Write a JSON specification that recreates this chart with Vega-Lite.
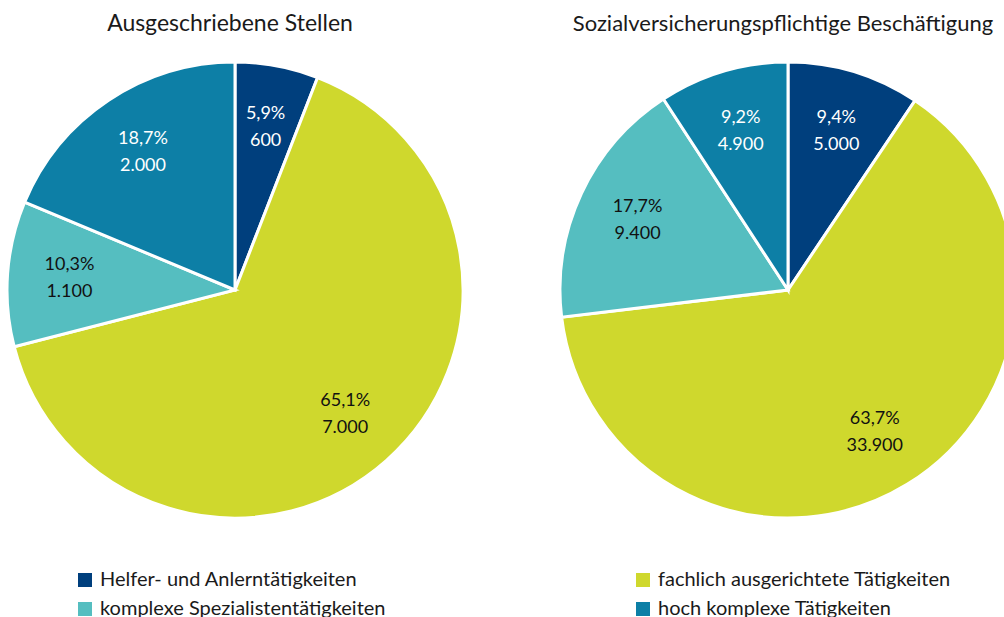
{
  "$schema": "https://vega.github.io/schema/vega-lite/v6.json",
  "padding": {"left": 1, "top": 13, "right": 0, "bottom": 0},
  "autosize": {"type": "pad"},
  "background": "white",
  "config": {
    "view": {"stroke": null},
    "font": "Lato",
    "locale": {"number": {"decimal": ",", "thousands": ".", "grouping": [3], "currency": ["", " €"]}},
    "title": {"fontSize": 23, "fontWeight": "normal", "color": "#1a1a1a", "offset": 20, "anchor": "middle", "dx": -5}
  },
  "spacing": 85,
  "hconcat": [
    {
      "title": "Ausgeschriebene Stellen",
      "width": 456,
      "height": 456,
      "data": {"values": [
        {"kategorie": "Helfer- und Anlerntätigkeiten", "o": 1, "anteil": 0.059, "anzahl": 600},
        {"kategorie": "fachlich ausgerichtete Tätigkeiten", "o": 2, "anteil": 0.651, "anzahl": 7000},
        {"kategorie": "komplexe Spezialistentätigkeiten", "o": 3, "anteil": 0.103, "anzahl": 1100},
        {"kategorie": "hoch komplexe Tätigkeiten", "o": 4, "anteil": 0.187, "anzahl": 2000}
      ]},
      "encoding": {
        "theta": {"field": "anteil", "type": "quantitative", "stack": true},
        "order": {"field": "o", "type": "quantitative"},
        "detail": {"field": "kategorie", "type": "nominal"}
      },
      "layer": [
        {
          "mark": {"type": "arc", "stroke": "white", "strokeWidth": 3},
          "encoding": {
            "color": {
              "field": "kategorie", "type": "nominal",
              "scale": {
                "domain": ["Helfer- und Anlerntätigkeiten", "komplexe Spezialistentätigkeiten", "fachlich ausgerichtete Tätigkeiten", "hoch komplexe Tätigkeiten"],
                "range": ["#003f7d", "#55bec0", "#cfd82d", "#0d7fa6"]
              },
              "legend": {
                "orient": "none", "legendX": 68, "legendY": 508, "columns": 2, "columnPadding": 247,
                "title": null, "symbolType": "square", "symbolSize": 196, "symbolStrokeWidth": 0,
                "labelFontSize": 20, "labelColor": "#1a1a1a", "labelOffset": 5, "rowPadding": 9, "labelLimit": 400
              }
            }
          }
        },
        {
          "mark": {"type": "text", "radius": 166, "dy": -13, "fontSize": 18},
          "encoding": {
            "text": {"field": "anteil", "type": "quantitative", "format": ".1%"},
            "color": {"condition": {"test": "datum.o == 1 || datum.o == 4", "value": "white"}, "value": "#111111"}
          }
        },
        {
          "mark": {"type": "text", "radius": 166, "dy": 14, "fontSize": 18},
          "encoding": {
            "text": {"field": "anzahl", "type": "quantitative", "format": ",d"},
            "color": {"condition": {"test": "datum.o == 1 || datum.o == 4", "value": "white"}, "value": "#111111"}
          }
        }
      ]
    },
    {
      "title": {"text": "Sozialversicherungspflichtige Beschäftigung", "fontSize": 22},
      "width": 456,
      "height": 456,
      "data": {"values": [
        {"kategorie": "Helfer- und Anlerntätigkeiten", "o": 1, "anteil": 0.094, "anzahl": 5000},
        {"kategorie": "fachlich ausgerichtete Tätigkeiten", "o": 2, "anteil": 0.637, "anzahl": 33900},
        {"kategorie": "komplexe Spezialistentätigkeiten", "o": 3, "anteil": 0.177, "anzahl": 9400},
        {"kategorie": "hoch komplexe Tätigkeiten", "o": 4, "anteil": 0.092, "anzahl": 4900}
      ]},
      "encoding": {
        "theta": {"field": "anteil", "type": "quantitative", "stack": true},
        "order": {"field": "o", "type": "quantitative"},
        "detail": {"field": "kategorie", "type": "nominal"}
      },
      "layer": [
        {
          "mark": {"type": "arc", "stroke": "white", "strokeWidth": 3},
          "encoding": {
            "color": {"field": "kategorie", "type": "nominal"}
          }
        },
        {
          "mark": {"type": "text", "radius": 166, "dy": -13, "fontSize": 18},
          "encoding": {
            "text": {"field": "anteil", "type": "quantitative", "format": ".1%"},
            "color": {"condition": {"test": "datum.o == 1 || datum.o == 4", "value": "white"}, "value": "#111111"}
          }
        },
        {
          "mark": {"type": "text", "radius": 166, "dy": 14, "fontSize": 18},
          "encoding": {
            "text": {"field": "anzahl", "type": "quantitative", "format": ",d"},
            "color": {"condition": {"test": "datum.o == 1 || datum.o == 4", "value": "white"}, "value": "#111111"}
          }
        }
      ]
    }
  ]
}
